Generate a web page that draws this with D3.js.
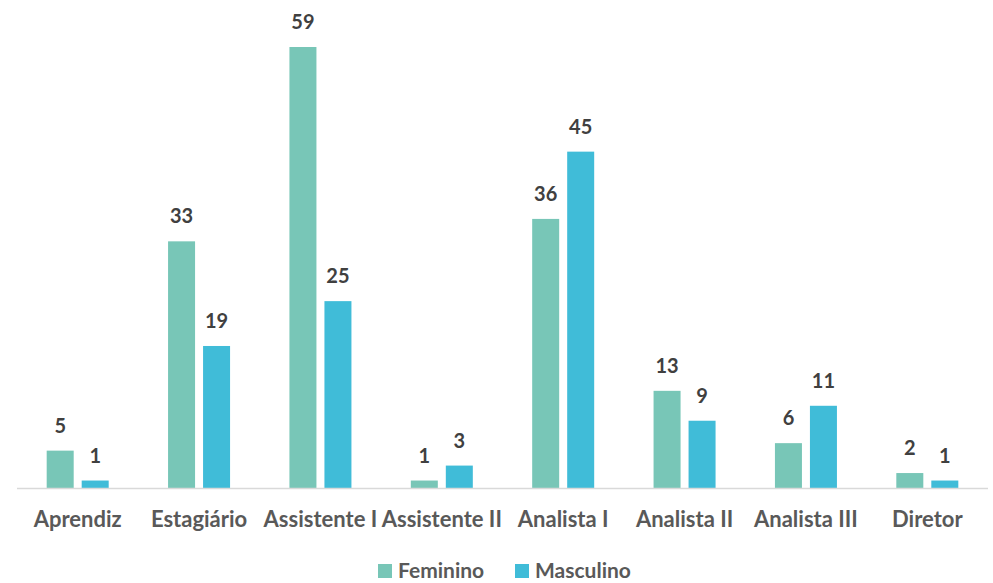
<!DOCTYPE html>
<html>
<head>
<meta charset="utf-8">
<script src="https://cdn.jsdelivr.net/npm/d3@7"></script>
<style>
  body { margin: 0; background: #fff; }
  text { font-family: Lato, "Open Sans", sans-serif; font-weight: 700; }
</style>
</head>
<body>
<div id="chart"></div>
<script>
var categories = ['Aprendiz', 'Estagiário', 'Assistente I', 'Assistente II', 'Analista I', 'Analista II', 'Analista III', 'Diretor'];
var series = ['Feminino', 'Masculino'];
var feminino = [5, 33, 59, 1, 36, 13, 6, 2];
var masculino = [1, 19, 25, 3, 45, 9, 11, 1];
var colors = ['#78C6B7', '#40BCD8'];

var W = 993, H = 583;
var margin = { top: 47, right: 5, bottom: 95, left: 17 };
var width = W - margin.left - margin.right;
var height = H - margin.top - margin.bottom;

var svg = d3.select('#chart')
  .append('svg')
    .attr('width', W)
    .attr('height', H)
  .append('g')
    .attr('transform', `translate(${margin.left}, ${margin.top})`);

var x0 = d3.scaleBand()
  .domain(categories)
  .range([0, 971]);

var groupW = 62;
var x1 = d3.scaleBand()
  .domain(series)
  .range([0, groupW])
  .paddingInner(8 / 62 * 2 / (1 + 8 / 62));

var y = d3.scaleLinear()
  .domain([0, 59])
  .range([height, 0]);

var data = categories.map((c, i) => ({
  cat: c,
  vals: [
    { key: 'Feminino', value: feminino[i] },
    { key: 'Masculino', value: masculino[i] }
  ]
}));
var z = d3.scaleOrdinal(colors).domain(series);

var groups = svg.selectAll('.grp')
  .data(data)
  .enter()
  .append('g')
    .attr('class', 'grp')
    .attr('transform', d => `translate(${x0(d.cat) + (x0.bandwidth() - groupW) / 2}, 0)`);

groups.selectAll('rect')
  .data(d => d.vals)
  .enter()
  .append('rect')
    .attr('x', d => x1(d.key))
    .attr('width', x1.bandwidth())
    .attr('y', d => y(d.value))
    .attr('height', d => height - y(d.value))
    .style('fill', d => z(d.key));

groups.selectAll('.val')
  .data(d => d.vals)
  .enter()
  .append('text')
    .attr('class', 'val')
    .attr('x', d => x1(d.key) + x1.bandwidth() / 2)
    .attr('y', d => y(d.value) - 18)
    .attr('text-anchor', 'middle')
    .style('font-size', '20px')
    .style('fill', '#404040')
    .text(d => d.value);

// axis line
svg.append('line')
  .attr('x1', 0)
  .attr('x2', 971)
  .attr('y1', height + 0.5)
  .attr('y2', height + 0.5)
  .style('stroke', '#D9D9D9')
  .style('stroke-width', 1.5);

svg.selectAll('.cat')
  .data(categories)
  .enter()
  .append('text')
    .attr('class', 'cat')
    .attr('x', d => x0(d) + x0.bandwidth() / 2)
    .attr('y', height + 39)
    .attr('text-anchor', 'middle')
    .style('font-size', '22px')
    .style('fill', '#595959')
    .text(d => d);

// legend
var legend = svg.append('g')
  .attr('transform', `translate(0, ${578 - margin.top})`);
var lx = [378 - margin.left, 515 - margin.left];
series.forEach((s, i) => {
  legend.append('rect')
    .attr('x', lx[i])
    .attr('y', -14)
    .attr('width', 14)
    .attr('height', 14)
    .style('fill', colors[i]);
  legend.append('text')
    .attr('x', lx[i] + 20)
    .attr('y', 0)
    .style('font-size', '21px')
    .style('fill', '#595959')
    .text(s);
});
</script>
</body>
</html>
